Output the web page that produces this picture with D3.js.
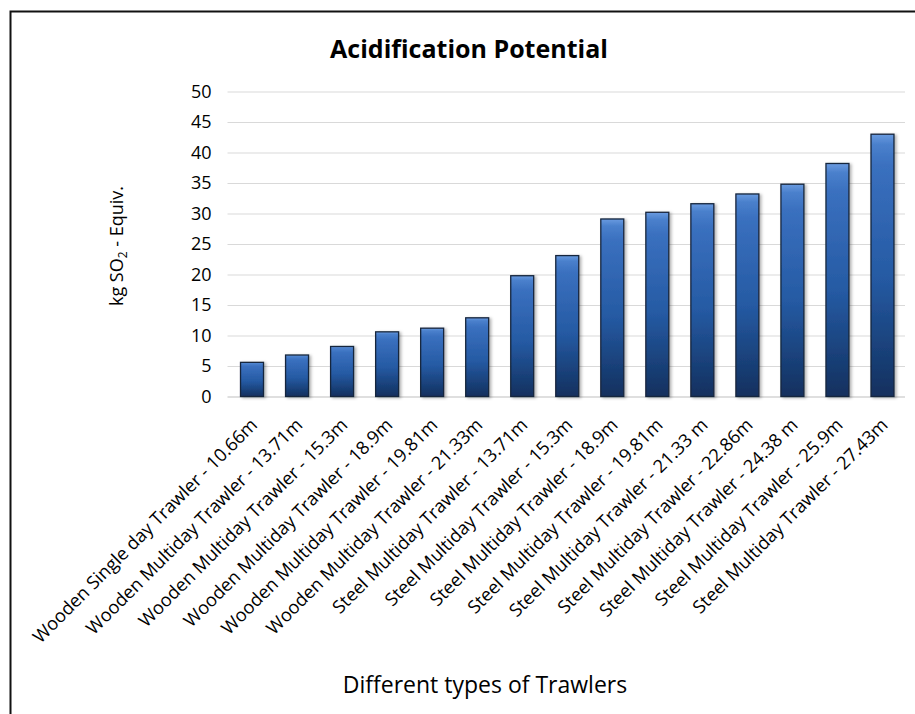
<!DOCTYPE html>
<html>
<head>
<meta charset="utf-8">
<script src="https://cdn.jsdelivr.net/npm/d3@7"></script>
<style>
  body { margin: 0; background: #fff; }
  text { font-family: "Open Sans", "Noto Sans", sans-serif; fill: #000; }
</style>
</head>
<body>
<script>
const trawlers = [
  "Wooden Single day Trawler - 10.66m",
  "Wooden Multiday Trawler - 13.71m",
  "Wooden Multiday Trawler - 15.3m",
  "Wooden Multiday Trawler - 18.9m",
  "Wooden Multiday Trawler - 19.81m",
  "Wooden Multiday Trawler - 21.33m",
  "Steel Multiday Trawler - 13.71m",
  "Steel Multiday Trawler - 15.3m",
  "Steel Multiday Trawler - 18.9m",
  "Steel Multiday Trawler - 19.81m",
  "Steel Multiday Trawler - 21.33 m",
  "Steel Multiday Trawler - 22.86m",
  "Steel Multiday Trawler - 24.38 m",
  "Steel Multiday Trawler - 25.9m",
  "Steel Multiday Trawler - 27.43m",
];
const so2Equiv = [5.6, 6.8, 8.2, 10.6, 11.2, 12.9, 19.8, 23.1, 29.1, 30.2, 31.6, 33.2, 34.8, 38.2, 43.0];
const yTicks = [0, 5, 10, 15, 20, 25, 30, 35, 40, 45, 50];

const width = 915;
const height = 714;
const plot = { left: 229.5, right: 905, top: 91.5, bottom: 396.5 };

const svg = d3
  .select("body")
  .append("svg")
  .attr("width", width)
  .attr("height", height);

const defs = svg.append("defs");
const grad = defs
  .append("linearGradient")
  .attr("id", "barFill")
  .attr("x1", 0).attr("y1", 0).attr("x2", 0).attr("y2", 1);
[
  ["0%", "#6a9be0"],
  ["4%", "#4a80cc"],
  ["12%", "#3a70bf"],
  ["55%", "#255aa3"],
  ["100%", "#12305e"],
].forEach(([o, c]) => grad.append("stop").attr("offset", o).attr("stop-color", c));

defs
  .append("filter")
  .attr("id", "shadow")
  .attr("x", "-20%").attr("y", "-10%").attr("width", "150%").attr("height", "130%")
  .append("feDropShadow")
  .attr("dx", 2).attr("dy", 1)
  .attr("stdDeviation", 1.5)
  .attr("flood-color", "#000")
  .attr("flood-opacity", 0.3);

// frame
svg
  .append("rect")
  .attr("x", 10.5)
  .attr("y", 11.5)
  .attr("width", 1000)
  .attr("height", 1000)
  .attr("fill", "none")
  .attr("stroke", "#111")
  .attr("stroke-width", 2);

const x = d3
  .scaleBand()
  .domain(trawlers)
  .range([plot.left, plot.right])
  .paddingInner(0.49)
  .paddingOuter(0.245);

const y = d3.scaleLinear().domain([0, 50]).range([plot.bottom, plot.top]);

// grid
const grid = svg
  .append("g")
  .attr("transform", `translate(${plot.left - 2}, 0)`)
  .call(d3.axisLeft(y).tickValues(yTicks).tickSize(-(plot.right - plot.left + 2)).tickFormat(""));
grid.select(".domain").remove();
grid
  .selectAll(".tick line")
  .attr("stroke", (d) => (d === 0 ? "#bfbfbf" : "#d9d9d9"))
  .attr("stroke-width", 1.2);

// y axis labels
const yAxis = svg
  .append("g")
  .attr("transform", `translate(${plot.left - 6}, 0)`)
  .call(d3.axisLeft(y).tickValues(yTicks).tickSize(0).tickPadding(12));
yAxis.select(".domain").remove();
yAxis
  .selectAll("text")
  .attr("font-size", 18)
  .style("font-family", '"Open Sans", sans-serif')
  .attr("fill", "#000");

// bars
svg
  .append("g")
  .selectAll("rect")
  .data(so2Equiv)
  .join("rect")
  .attr("x", (d, i) => x(trawlers[i]))
  .attr("y", (d) => y(d))
  .attr("width", x.bandwidth())
  .attr("height", (d) => y(0) - y(d))
  .attr("fill", "url(#barFill)")
  .attr("stroke", "#17263d")
  .attr("stroke-width", 1.3)
  .attr("filter", "url(#shadow)");

// x axis labels
const xAxis = svg
  .append("g")
  .attr("transform", `translate(0, ${plot.bottom})`)
  .call(d3.axisBottom(x).tickSize(0));
xAxis.select(".domain").remove();
xAxis
  .selectAll("text")
  .attr("font-size", 18.2)
  .style("font-family", '"Open Sans", sans-serif')
  .attr("fill", "#000")
  .attr("text-anchor", "end")
  .attr("x", 0)
  .attr("y", 0)
  .attr("dy", "0.35em")
  .attr("transform", "translate(2, 25) rotate(-45)");

// titles
svg
  .append("text")
  .text("Acidification Potential")
  .attr("x", 469)
  .attr("y", 58)
  .attr("text-anchor", "middle")
  .attr("font-size", 25)
  .attr("font-weight", "bold");

svg
  .append("text")
  .text("Different types of Trawlers")
  .attr("x", 485)
  .attr("y", 693)
  .attr("text-anchor", "middle")
  .attr("font-size", 23);

const yTitle = svg
  .append("text")
  .attr("text-anchor", "middle")
  .attr("font-size", 18)
  .attr("transform", "translate(123, 246) rotate(-90)");
yTitle.append("tspan").text("kg SO");
yTitle.append("tspan").text("2").attr("font-size", 12).attr("dy", 4);
yTitle.append("tspan").text(" - Equiv.").attr("dy", -4);
</script>
</body>
</html>
